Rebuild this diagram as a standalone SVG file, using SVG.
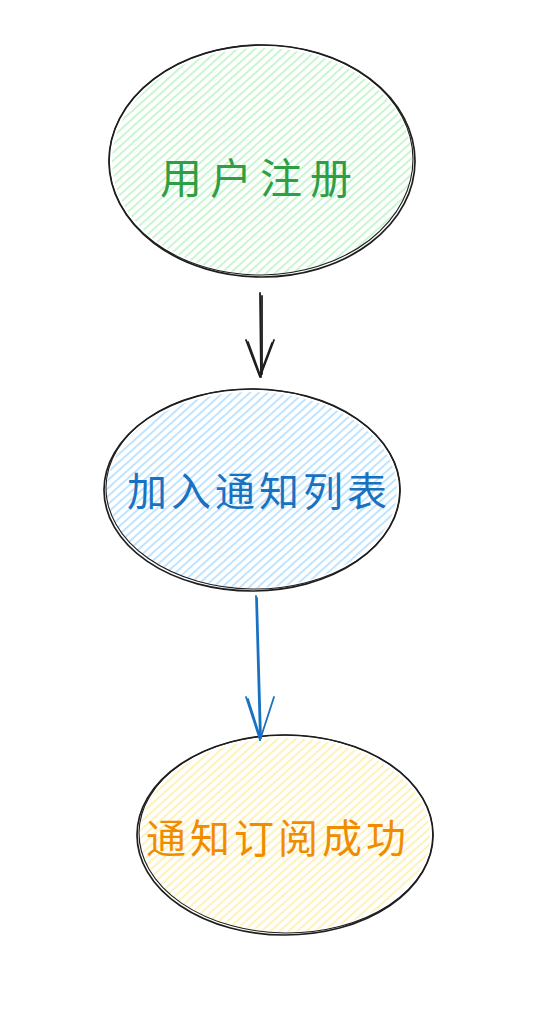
<svg xmlns="http://www.w3.org/2000/svg" width="552" height="1014" viewBox="0 0 552 1014">
  <defs>
    <pattern id="hatch-green" patternUnits="userSpaceOnUse" width="6" height="6" patternTransform="rotate(-42)">
      <line x1="0" y1="3" x2="6" y2="3" stroke="#b2f2bb" stroke-width="1.4"/>
    </pattern>
    <pattern id="hatch-blue" patternUnits="userSpaceOnUse" width="6" height="6" patternTransform="rotate(-42)">
      <line x1="0" y1="3" x2="6" y2="3" stroke="#a5d8ff" stroke-width="1.4"/>
    </pattern>
    <pattern id="hatch-yellow" patternUnits="userSpaceOnUse" width="6" height="6" patternTransform="rotate(-42)">
      <line x1="0" y1="3" x2="6" y2="3" stroke="#ffec99" stroke-width="1.4"/>
    </pattern>
  </defs>
  <style>
    .outline { fill: none; stroke: #1e1e1e; stroke-width: 1.7; stroke-linecap: round; }
    .outline2 { fill: none; stroke: #1e1e1e; stroke-width: 1.1; stroke-linecap: round; }
    .label { font-family: "Noto Sans CJK SC", "Noto Sans", sans-serif; text-anchor: middle; font-weight: 400; }
    .arrow { fill: none; stroke-width: 1.8; stroke-linecap: round; stroke-linejoin: round; }
  </style>

  <g id="node-register">
    <ellipse cx="262" cy="161" rx="150" ry="113" fill="url(#hatch-green)"/>
    <ellipse class="outline" cx="262" cy="161" rx="153" ry="116"/>
    <ellipse class="outline2" cx="261" cy="160" rx="152" ry="115" transform="rotate(-0.6 262 161)"/>
    <text class="label" x="260" y="194" font-size="42" letter-spacing="8" fill="#2f9e44">用户注册</text>
  </g>

  <g id="node-join-list">
    <ellipse cx="252" cy="490" rx="145" ry="98" fill="url(#hatch-blue)"/>
    <ellipse class="outline" cx="252" cy="490" rx="148" ry="101"/>
    <ellipse class="outline2" cx="253" cy="489" rx="147" ry="100" transform="rotate(0.8 252 490)"/>
    <text class="label" x="259" y="506" font-size="40" letter-spacing="4" fill="#1971c2">加入通知列表</text>
  </g>

  <g id="node-subscribed">
    <ellipse cx="285" cy="835" rx="145" ry="97" fill="url(#hatch-yellow)"/>
    <ellipse class="outline" cx="285" cy="835" rx="148" ry="100"/>
    <ellipse class="outline2" cx="286" cy="834" rx="147" ry="99" transform="rotate(0.5 285 835)"/>
    <text class="label" x="278" y="853" font-size="40" letter-spacing="4" fill="#f08c00">通知订阅成功</text>
  </g>

  <g id="connectors">
    <g stroke="#1e1e1e" class="arrow">
      <path d="M260 293 L261 377"/>
      <path d="M262 296 L262 374"/>
      <path d="M246 340 L260 377 L274 340"/>
      <path d="M248 342 L260 375 L272 343"/>
    </g>
    <g stroke="#1971c2" class="arrow">
      <path d="M256 596 L260 740"/>
      <path d="M257 598 L261 738"/>
      <path d="M246 697 L260 740 L274 697"/>
      <path d="M248 699 L260 737"/>
    </g>
  </g>
</svg>
